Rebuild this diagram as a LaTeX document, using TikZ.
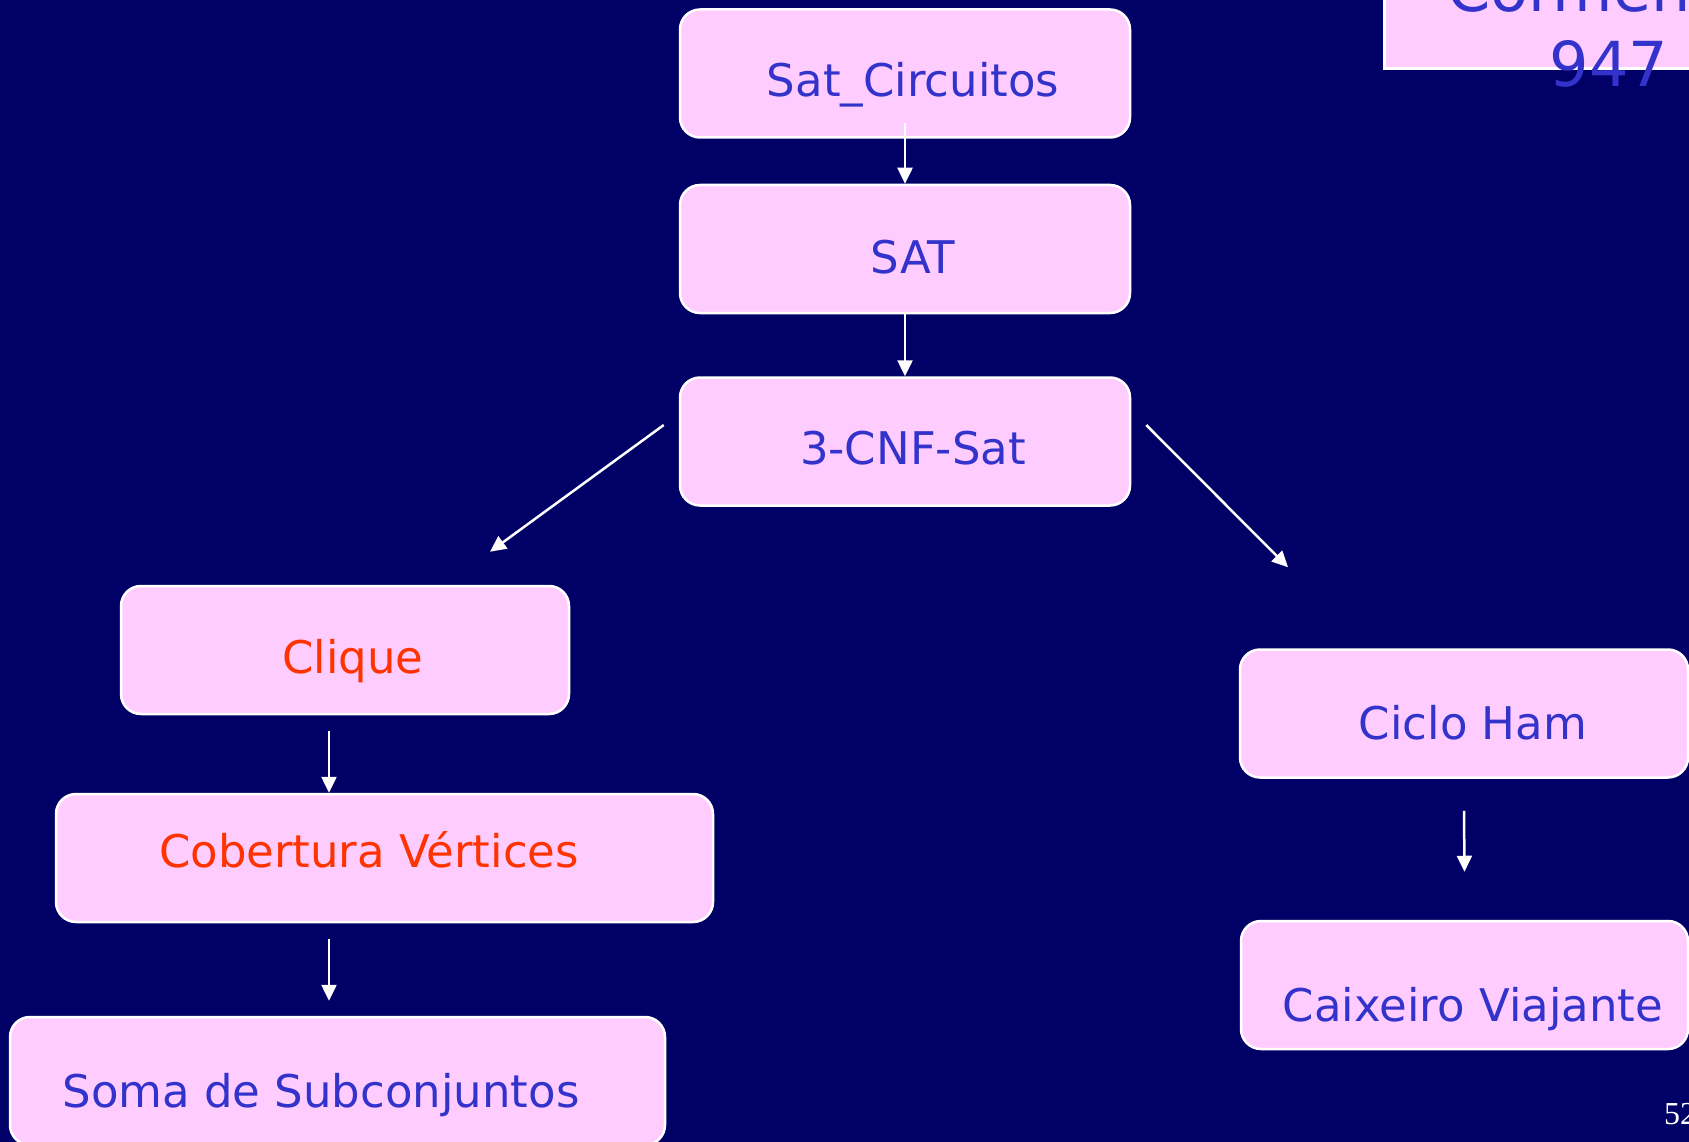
\documentclass[tikz,border=0pt]{standalone}
\usepackage{fontspec}
\setmainfont{DejaVu Sans}
\newfontfamily\pagenumfont{Liberation Serif}
\usetikzlibrary{arrows.meta,calc}
\definecolor{slidebg}{HTML}{000066}
\definecolor{boxfill}{HTML}{FFCCFF}
\definecolor{labelblue}{HTML}{3333CC}
\definecolor{labelred}{HTML}{FF3300}
\tikzset{
  probbox/.style={draw=white, line width=2.5pt, fill=boxfill, rounded corners=20pt,
    minimum width=#1, minimum height=128pt, inner sep=0pt},
  probtext/.style={anchor=base, font=\fontsize{45}{54}\selectfont, text=labelblue, inner sep=0pt},
  hardtext/.style={probtext, text=labelred},
  reduction/.style={draw=white, line width=2.5pt, -{Triangle[length=16pt,width=15pt]}}
}
\begin{document}
\begin{tikzpicture}[x=1pt, y=-1pt]
  % slide background and clipping frame
  \fill[slidebg] (0,0) rectangle (1689,1142);
  \useasboundingbox (0,0) rectangle (1689,1142);
  \clip (0,0) rectangle (1689,1142);

  % reference box in the corner
  \node[draw=white, line width=2.5pt, fill=boxfill, minimum width=400pt, minimum height=140pt,
        inner sep=0pt, anchor=south west] (ref) at (1383,70) {};
  \node[anchor=base west, font=\fontsize{62}{70}\selectfont, text=labelblue, inner sep=0pt]
        (refname) at (1447,12) {Cormen};
  \node[anchor=base, font=\fontsize{62}{70}\selectfont, text=labelblue, inner sep=0pt]
        (refpage) at (1609,87) {947};

  % problem boxes
  \node[probbox=450pt] (satc)   at (905,73.5)   {};
  \node[probbox=450pt] (sat)    at (905,249)    {};
  \node[probbox=450pt] (cnf)    at (905,441.5)  {};
  \node[probbox=448pt] (clique) at (345,650)    {};
  \node[probbox=657pt] (cob)    at (384.5,858)  {};
  \node[probbox=655pt] (soma)   at (337.5,1081) {};
  \node[probbox=448pt] (ciclo)  at (1464,713.5) {};
  \node[probbox=447pt] (caix)   at (1464.5,985) {};

  % problem names
  \node[probtext] (tsatc)   at (913,97)    {Sat\_Circuitos};
  \node[probtext] (tsat)    at (913,273)   {SAT};
  \node[probtext] (tcnf)    at (913,464)   {3-CNF-Sat};
  \node[hardtext] (tclique) at (353,673)   {Clique};
  \node[hardtext] (tcob)    at (369,867)   {Cobertura Vértices};
  \node[probtext] (tsoma)   at (321,1107)  {Soma de Subconjuntos};
  \node[probtext] (tciclo)  at (1473,739)  {Ciclo Ham};
  \node[probtext] (tcaix)   at (1473,1021) {Caixeiro Viajante};

  % reductions
  \draw[reduction] ($(satc.south)+(0,-16)$) -- (sat.north);
  \draw[reduction] (sat.south) -- (cnf.north);
  \draw[reduction] ($(cnf.west)+(-15,-16.5)$) -- ($(clique.north)+(145,-33)$);
  \draw[reduction] ($(cnf.east)+(15,-16.5)$) -- ($(ciclo.north)+(-176,-81)$);
  \coordinate (cqout) at ($(clique.south)+(-16,16)$);
  \draw[reduction] (cqout) -- (cqout |- cob.north);
  \coordinate (cobout) at ($(cob.south)+(-55.5,16)$);
  \draw[reduction] (cobout) -- ($(cobout |- soma.north)+(0,-15)$);
  \draw[reduction] ($(ciclo.south)+(0,32)$) -- ($(caix.north)+(0,-48)$);

  % page number
  \node[anchor=base west, font=\pagenumfont\fontsize{32}{38}\selectfont, text=white, inner sep=0pt]
        (pagenum) at (1664,1124) {52};
\end{tikzpicture}
\end{document}
